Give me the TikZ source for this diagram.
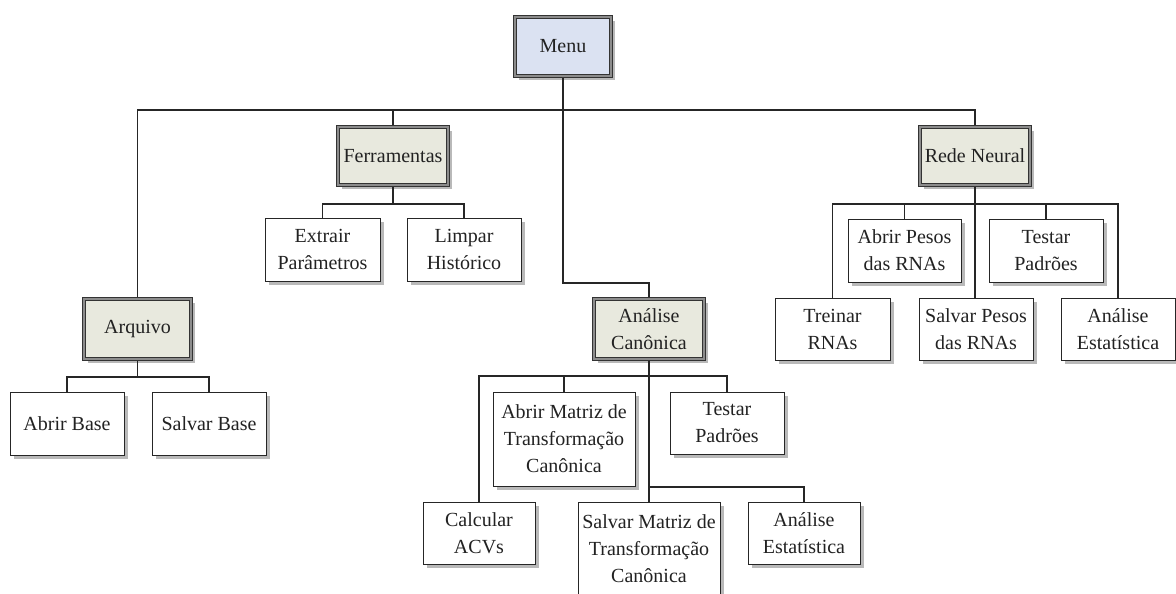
\documentclass[tikz,border=0pt]{standalone}
\usepackage{fontspec}
\setmainfont{Liberation Serif}
\usetikzlibrary{shadows}
\definecolor{menufill}{HTML}{DBE2F2}
\definecolor{groupfill}{HTML}{E8E9DE}
\definecolor{ink}{HTML}{222222}
\tikzset{
  box/.style={draw=black!85, line width=1pt, fill=white,
    minimum width=114pt, minimum height=63pt, inner sep=0pt, outer sep=0pt,
    align=center, text=ink, font=\fontsize{20}{27}\selectfont,
    drop shadow={shadow xshift=4pt, shadow yshift=-4pt, fill=black!50, opacity=.55}},
  bigbox/.style={box, minimum width=142pt, minimum height=94pt},
  groupbox/.style={box, draw=black!80, line width=0.9pt, double=black!45,
    double distance=2.2pt, fill=groupfill, outer sep=2pt,
    minimum width=110pt, minimum height=58pt},
  menubox/.style={groupbox, fill=menufill, minimum width=96pt, minimum height=59pt},
  link/.style={draw=black!85, line width=1.1pt},
}
\begin{document}
\begin{tikzpicture}[x=1pt,y=-1pt]
\useasboundingbox (0,0) rectangle (1176,594);
\clip (0,0) rectangle (1176,594);

% top level
\node[menubox] (menu) at (563,46.5) {Menu};

% main groups
\node[groupbox, minimum width=107pt, minimum height=60pt] (arq) at (137.5,329) {Arquivo};
\node[groupbox] (ferr) at (393,156) {Ferramentas};
\node[groupbox, minimum height=60pt] (ac) at (649,329) {Análise\\Canônica};
\node[groupbox] (rede) at (975,156) {Rede Neural};

% Arquivo
\node[box] (abrirbase) at (67,423.5) {Abrir Base};
\node[box] (salvarbase) at (209,423.5) {Salvar Base};

% Ferramentas
\node[box, minimum width=115pt] (extrair) at (322.5,249.5) {Extrair\\Parâmetros};
\node[box] (limpar) at (464,249.5) {Limpar\\Histórico};

% Análise Canônica
\node[bigbox] (abrirmatriz) at (564,439) {Abrir Matriz de\\Transformação\\Canônica};
\node[box, minimum height=62pt] (testarac) at (727,423) {Testar\\Padrões};
\node[box, minimum width=112pt, minimum height=62pt] (calc) at (479,533) {Calcular\\ACVs};
\node[bigbox] (salvarmatriz) at (649,549) {Salvar Matriz de\\Transformação\\Canônica};
\node[box, minimum width=112pt, minimum height=62pt] (estac) at (804,533) {Análise\\Estatística};

% Rede Neural
\node[box, minimum width=113pt] (abrirpesos) at (904.5,250.5) {Abrir Pesos\\das RNAs};
\node[box] (testarrn) at (1046,250.5) {Testar\\Padrões};
\node[box, minimum width=115pt, minimum height=62pt] (treinar) at (832.5,329) {Treinar\\RNAs};
\node[box, minimum height=62pt] (salvarpesos) at (976,329) {Salvar Pesos\\das RNAs};
\node[box, minimum height=62pt] (estrn) at (1118,329) {Análise\\Estatística};

% bus heights
\coordinate (mbus) at (0,110);
\coordinate (acjog) at (0,283);
\coordinate (fbus) at (0,204);
\coordinate (abus) at (0,377);
\coordinate (acbus) at (0,376);
\coordinate (acbus2) at (0,487);
\coordinate (rbus) at (0,204);

% Menu connectors
\draw[link] (menu.south) -- (menu.south |- mbus) -| (arq.north);
\draw[link] (menu.south |- mbus) -| (ferr.north);
\draw[link] (menu.south |- mbus) -| (rede.north);
\draw[link] (menu.south |- mbus) |- (ac.north |- acjog) -- (ac.north);

% Arquivo connectors
\draw[link] (arq.south) -- (arq.south |- abus) -| (abrirbase.north);
\draw[link] (arq.south |- abus) -| (salvarbase.north);

% Ferramentas connectors
\draw[link] (ferr.south) -- (ferr.south |- fbus) -| (extrair.north);
\draw[link] (ferr.south |- fbus) -| (limpar.north);

% Análise Canônica connectors
\draw[link] (ac.south) -- (salvarmatriz.north);
\draw[link] (ac.south |- acbus) -| (calc.north);
\draw[link] (ac.south |- acbus) -| (abrirmatriz.north);
\draw[link] (ac.south |- acbus) -| (testarac.north);
\draw[link] (ac.south |- acbus2) -| (estac.north);

% Rede Neural connectors
\draw[link] (rede.south) -- (rede.south |- rbus) -| (treinar.north);
\draw[link] (rede.south |- rbus) -| (abrirpesos.north);
\draw[link] (rede.south |- rbus) -- (salvarpesos.north -| rede.south);
\draw[link] (rede.south |- rbus) -| (testarrn.north);
\draw[link] (rede.south |- rbus) -| (estrn.north);
\end{tikzpicture}
\end{document}
